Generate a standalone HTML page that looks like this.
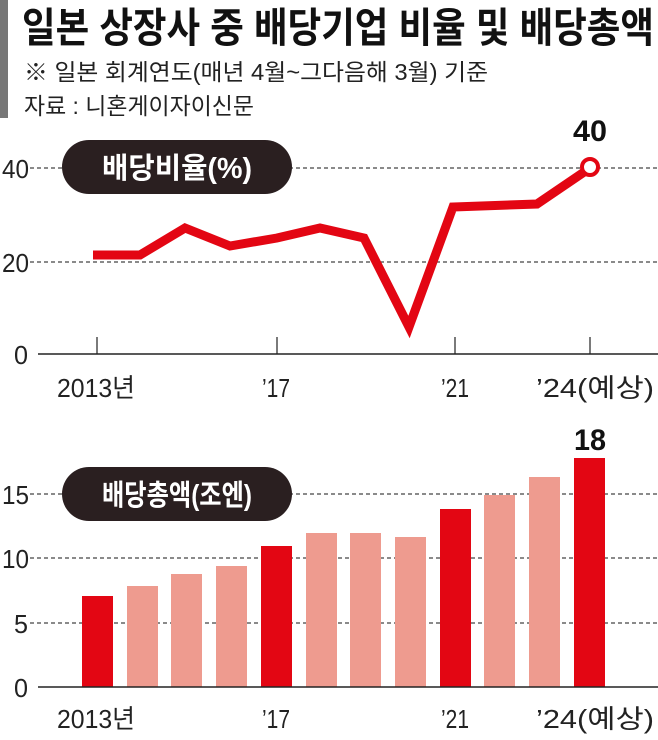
<!DOCTYPE html>
<html><head><meta charset="utf-8"><style>
body{margin:0;background:#fff;}
svg{display:block;font-family:"Liberation Sans","Noto Sans CJK KR",sans-serif;}
</style></head><body>
<svg width="658" height="740" viewBox="0 0 658 740">
<rect x="0" y="0" width="8" height="118" fill="#777"/>
<text x="22" y="42" font-size="41" font-weight="bold" fill="#111" textLength="632" lengthAdjust="spacingAndGlyphs">일본 상장사 중 배당기업 비율 및 배당총액</text>
<text x="24" y="80" font-size="23" fill="#222" textLength="464" lengthAdjust="spacingAndGlyphs">※ 일본 회계연도(매년 4월~그다음해 3월) 기준</text>
<text x="24" y="114" font-size="23" fill="#222" textLength="230" lengthAdjust="spacingAndGlyphs">자료 : 니혼게이자이신문</text>

<!-- line chart -->
<g stroke="#444" stroke-width="1.2" stroke-dasharray="4,3">
<line x1="30" y1="168" x2="658" y2="168"/>
<line x1="30" y1="262" x2="658" y2="262"/>
</g>
<line x1="38" y1="354" x2="658" y2="354" stroke="#222" stroke-width="1.5"/>
<g stroke="#222" stroke-width="1.2">
<line x1="97" y1="337" x2="97" y2="354"/><line x1="277" y1="337" x2="277" y2="354"/>
<line x1="455" y1="337" x2="455" y2="354"/><line x1="590" y1="337" x2="590" y2="354"/>
</g>
<g font-size="26" fill="#222">
<text x="2" y="178" textLength="27" lengthAdjust="spacingAndGlyphs">40</text>
<text x="2" y="272" textLength="27" lengthAdjust="spacingAndGlyphs">20</text>
<text x="14" y="364" textLength="14" lengthAdjust="spacingAndGlyphs">0</text>
<text x="57" y="397" textLength="78" lengthAdjust="spacingAndGlyphs">2013년</text>
<text x="262" y="397" textLength="28" lengthAdjust="spacingAndGlyphs">’17</text>
<text x="441" y="397" textLength="28" lengthAdjust="spacingAndGlyphs">’21</text>
<text x="536" y="397" textLength="118" lengthAdjust="spacingAndGlyphs">’24(예상)</text>
</g>
<rect x="62" y="140" width="230" height="54" rx="27" fill="#2a1f20"/>
<text x="177" y="178" font-size="29" font-weight="bold" fill="#fff" text-anchor="middle" textLength="150" lengthAdjust="spacingAndGlyphs">배당비율(%)</text>
<polyline fill="none" stroke="#e30613" stroke-width="9" stroke-linejoin="miter" points="93,255 140,255 185,228 230,246 277,238 320,228 364,238 409,327 453,207 537,204 590,168"/>
<circle cx="590" cy="167" r="8" fill="#fff" stroke="#e30613" stroke-width="4"/>
<text x="590" y="141" font-size="30" font-weight="bold" fill="#111" text-anchor="middle" textLength="34" lengthAdjust="spacingAndGlyphs">40</text>

<!-- bar chart -->
<g stroke="#444" stroke-width="1.2" stroke-dasharray="4,3">
<line x1="30" y1="494" x2="658" y2="494"/>
<line x1="30" y1="558" x2="658" y2="558"/>
<line x1="30" y1="623" x2="658" y2="623"/>
</g>
<g font-size="26" fill="#222">
<text x="2" y="504" textLength="27" lengthAdjust="spacingAndGlyphs">15</text>
<text x="2" y="568" textLength="27" lengthAdjust="spacingAndGlyphs">10</text>
<text x="14" y="633" textLength="14" lengthAdjust="spacingAndGlyphs">5</text>
<text x="14" y="697" textLength="14" lengthAdjust="spacingAndGlyphs">0</text>
<text x="57" y="728" textLength="78" lengthAdjust="spacingAndGlyphs">2013년</text>
<text x="262" y="728" textLength="28" lengthAdjust="spacingAndGlyphs">’17</text>
<text x="441" y="728" textLength="28" lengthAdjust="spacingAndGlyphs">’21</text>
<text x="536" y="728" textLength="118" lengthAdjust="spacingAndGlyphs">’24(예상)</text>
</g>
<g>
<rect x="82" y="596" width="31" height="91" fill="#e30613"/>
<rect x="127" y="586" width="31" height="101" fill="#ee9b8f"/>
<rect x="171" y="574" width="31" height="113" fill="#ee9b8f"/>
<rect x="216" y="566" width="31" height="121" fill="#ee9b8f"/>
<rect x="261" y="546" width="31" height="141" fill="#e30613"/>
<rect x="306" y="533" width="31" height="154" fill="#ee9b8f"/>
<rect x="350" y="533" width="31" height="154" fill="#ee9b8f"/>
<rect x="395" y="537" width="31" height="150" fill="#ee9b8f"/>
<rect x="440" y="509" width="31" height="178" fill="#e30613"/>
<rect x="484" y="495" width="31" height="192" fill="#ee9b8f"/>
<rect x="529" y="477" width="31" height="210" fill="#ee9b8f"/>
<rect x="574" y="458" width="31" height="229" fill="#e30613"/>
</g>
<line x1="38" y1="687" x2="658" y2="687" stroke="#222" stroke-width="1.5"/>
<rect x="62" y="467" width="230" height="54" rx="27" fill="#2a1f20"/>
<text x="177" y="505" font-size="29" font-weight="bold" fill="#fff" text-anchor="middle" textLength="150" lengthAdjust="spacingAndGlyphs">배당총액(조엔)</text>
<text x="590" y="450" font-size="30" font-weight="bold" fill="#111" text-anchor="middle" textLength="32" lengthAdjust="spacingAndGlyphs">18</text>
</svg>
</body></html>
